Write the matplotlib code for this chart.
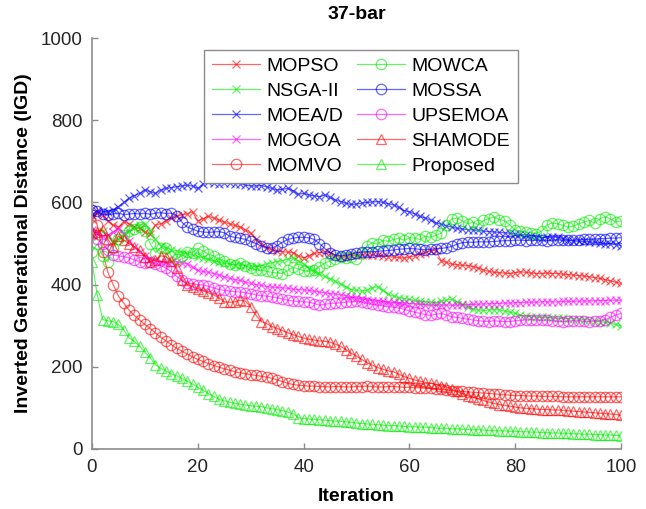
import numpy as np
import matplotlib.pyplot as plt

plt.rcParams['font.family'] = ['Liberation Sans', 'DejaVu Sans']

iteration = np.arange(0, 101)

mopso = [560, 575, 570, 555, 545, 540, 553, 548, 540, 537, 528, 522, 545, 548, 555, 563, 566, 570, 572, 577,
         555, 560, 566, 562, 557, 552, 548, 544, 540, 533, 525, 510, 498, 490, 484, 482, 480, 479, 478, 470,
         465, 470, 476, 478, 480, 478, 470, 466, 468, 471, 472, 473, 471, 472, 471, 470, 468, 467, 466, 465,
         467, 470, 474, 478, 482, 484, 458, 454, 450, 448, 447, 446, 444, 440, 436, 432, 430, 429, 428, 427,
         429, 431, 430, 428, 427, 427, 428, 427, 427, 425, 424, 423, 422, 421, 419, 417, 415, 412, 409, 406, 403]
nsga2 = [520, 525, 530, 515, 505, 510, 520, 530, 540, 545, 548, 530, 510, 495, 490, 485, 482, 478, 475, 472,
         468, 465, 462, 458, 455, 452, 450, 448, 447, 446, 445, 444, 446, 450, 453, 456, 458, 462, 465, 458,
         450, 440, 432, 425, 420, 414, 408, 401, 395, 388, 386, 384, 386, 392, 395, 386, 376, 372, 368, 366,
         364, 362, 360, 358, 357, 356, 360, 362, 364, 358, 352, 345, 340, 338, 337, 338, 339, 338, 336, 333,
         330, 326, 323, 322, 321, 320, 320, 319, 318, 318, 317, 317, 316, 315, 314, 312, 310, 308, 306, 303, 300]
moead = [570, 580, 578, 577, 582, 590, 600, 610, 616, 622, 630, 626, 622, 630, 634, 636, 638, 640, 642, 640,
         634, 645, 650, 648, 646, 647, 648, 646, 646, 642, 640, 640, 641, 638, 634, 630, 632, 634, 628, 620,
         622, 618, 616, 614, 618, 612, 606, 602, 598, 595, 596, 598, 600, 601, 602, 600, 597, 594, 588, 580,
         577, 572, 566, 562, 557, 550, 547, 543, 540, 537, 535, 534, 533, 532, 530, 529, 528, 527, 526, 525,
         523, 522, 521, 519, 517, 514, 515, 516, 516, 512, 508, 506, 505, 505, 504, 503, 502, 500, 499, 497, 495]
mogoa = [532, 525, 518, 520, 528, 536, 525, 505, 492, 480, 470, 462, 458, 456, 455, 456, 455, 453, 451, 442,
         435, 432, 430, 427, 423, 419, 415, 412, 410, 406, 403, 400, 398, 395, 394, 393, 392, 391, 389, 388,
         387, 386, 384, 382, 380, 378, 377, 375, 373, 370, 367, 365, 363, 361, 360, 359, 358, 357, 356, 355,
         354, 353, 352, 351, 350, 350, 350, 350, 350, 350, 351, 351, 352, 352, 353, 353, 354, 354, 355, 355,
         356, 356, 357, 357, 357, 358, 358, 358, 358, 359, 359, 359, 360, 360, 360, 361, 361, 361, 362, 362, 362]
momvo = [582, 545, 480, 430, 400, 372, 355, 338, 325, 314, 303, 293, 282, 272, 263, 254, 245, 238, 231, 224,
         218, 213, 208, 203, 199, 195, 192, 188, 185, 183, 181, 179, 177, 175, 172, 168, 164, 160, 157, 155,
         154, 153, 153, 152, 152, 151, 152, 152, 151, 151, 152, 152, 153, 152, 151, 151, 152, 152, 151, 150,
         150, 149, 149, 148, 148, 147, 146, 144, 142, 141, 140, 139, 138, 137, 136, 135, 134, 133, 132, 131,
         130, 130, 129, 129, 129, 128, 128, 128, 128, 127, 127, 127, 127, 127, 127, 127, 127, 127, 127, 127, 127]
mowca = [480, 500, 470, 455, 490, 510, 520, 530, 535, 540, 530, 500, 478, 490, 488, 470, 462, 470, 480, 478,
         488, 482, 474, 470, 462, 458, 450, 448, 452, 445, 440, 436, 435, 432, 430, 428, 427, 435, 442, 438,
         434, 432, 436, 444, 452, 458, 462, 466, 464, 468, 462, 478, 495, 502, 498, 508, 505, 510, 513, 508,
         514, 513, 510, 518, 515, 520, 525, 545, 560, 562, 555, 548, 552, 545, 556, 560, 565, 558, 555, 545,
         533, 530, 528, 526, 524, 530, 545, 550, 548, 544, 540, 542, 548, 552, 556, 550, 560, 565, 560, 552, 555]
mossa = [582, 578, 572, 570, 572, 574, 570, 572, 573, 572, 574, 571, 574, 575, 573, 574, 568, 552, 540, 535,
         530, 528, 527, 528, 529, 526, 518, 515, 513, 510, 505, 500, 494, 490, 489, 495, 503, 510, 513, 515,
         515, 514, 510, 500, 488, 478, 472, 470, 471, 474, 478, 479, 480, 480, 481, 482, 483, 484, 486, 487,
         488, 487, 486, 485, 486, 487, 488, 490, 493, 498, 502, 503, 503, 504, 504, 504, 505, 506, 507, 507,
         508, 508, 507, 508, 508, 508, 507, 508, 509, 508, 508, 508, 509, 510, 510, 511, 512, 512, 513, 513, 514]
upsemoa = [522, 510, 500, 485, 472, 470, 468, 465, 460, 456, 452, 455, 450, 446, 440, 432, 420, 410, 404, 402,
           400, 399, 396, 392, 388, 386, 384, 383, 382, 380, 378, 375, 373, 372, 370, 368, 365, 362, 360, 359,
           358, 357, 354, 350, 352, 354, 355, 356, 357, 358, 360, 358, 355, 352, 350, 348, 346, 345, 343, 340,
           336, 333, 330, 327, 325, 328, 330, 326, 322, 320, 318, 316, 314, 312, 311, 310, 312, 311, 310, 310,
           312, 313, 314, 315, 314, 313, 314, 312, 311, 310, 311, 312, 312, 311, 310, 311, 312, 315, 320, 326, 330]
shamode = [525, 528, 533, 510, 492, 518, 508, 500, 492, 484, 468, 455, 460, 470, 468, 458, 440, 410, 400, 395,
           390, 385, 380, 375, 368, 358, 357, 358, 362, 360, 345, 325, 310, 305, 298, 293, 288, 283, 278, 274,
           270, 267, 265, 263, 262, 260, 255, 250, 242, 233, 226, 218, 210, 204, 198, 194, 190, 188, 182, 176,
           172, 168, 165, 162, 160, 157, 154, 151, 145, 140, 135, 130, 126, 122, 118, 114, 111, 108, 106, 104,
           102, 100, 99, 98, 97, 96, 96, 95, 95, 94, 93, 92, 91, 90, 89, 88, 87, 86, 85, 84, 82]
proposed = [455, 375, 315, 312, 310, 303, 290, 270, 262, 250, 235, 222, 205, 196, 190, 183, 178, 172, 165, 158,
            150, 143, 135, 128, 121, 117, 114, 111, 109, 107, 105, 104, 103, 100, 98, 96, 93, 90, 86, 76,
            74, 73, 72, 71, 70, 69, 68, 67, 66, 65, 63, 62, 61, 60, 59, 58, 57, 57, 56, 55,
            54, 54, 53, 53, 52, 51, 50, 50, 49, 49, 48, 48, 47, 47, 46, 45, 45, 44, 44, 43,
            43, 42, 42, 41, 41, 40, 40, 39, 39, 38, 38, 37, 37, 36, 36, 35, 35, 34, 34, 33, 32]

names = ['MOPSO', 'NSGA-II', 'MOEA/D', 'MOGOA', 'MOMVO',
         'MOWCA', 'MOSSA', 'UPSEMOA', 'SHAMODE', 'Proposed']
series = [mopso, nsga2, moead, mogoa, momvo, mowca, mossa, upsemoa, shamode, proposed]
colors = ['#ff0000', '#00ee00', '#0000ff', '#ff00ff', '#ff0000',
          '#00ee00', '#0000ff', '#ff00ff', '#ff0000', '#00ee00']
markers = ['x', 'x', 'x', 'x', 'o', 'o', 'o', 'o', '^', '^']

fig = plt.figure(figsize=(6.46, 5.09), dpi=100)
ax = fig.add_axes([0.1424, 0.1179, 0.8189, 0.8074])

for name, vals, c, m in zip(names, series, colors, markers):
    ax.plot(iteration, vals, color=c, marker=m, markersize=7.5 if m != 'x' else 6,
            markerfacecolor='none', markeredgewidth=0.9, linewidth=0.9, alpha=0.6, label=name)

ax.set_xlim(0, 100)
ax.set_ylim(0, 1000)
ax.set_xticks([0, 20, 40, 60, 80, 100])
ax.set_yticks([0, 200, 400, 600, 800, 1000])
for s in ['top', 'right']:
    ax.spines[s].set_visible(False)
for s in ['left', 'bottom']:
    ax.spines[s].set_color('#8c8c8c')
    ax.spines[s].set_linewidth(1.2)
ax.tick_params(direction='in', length=4, width=1, color='#8c8c8c',
               labelsize=13.5, labelcolor='#262626', pad=7)

ax.set_title('37-bar', fontsize=14, fontweight='bold', pad=14)
ax.set_xlabel('Iteration', fontsize=14, fontweight='bold', labelpad=9)
ax.set_ylabel('Inverted Generational Distance (IGD)', fontsize=14, fontweight='bold', labelpad=6)

leg = ax.legend(ncol=2, loc='upper center', bbox_to_anchor=(0.508, 0.972), fontsize=14,
                handlelength=2.5, columnspacing=0.7, labelspacing=0.38, handletextpad=0.3,
                borderpad=0.4, borderaxespad=0, fancybox=False, framealpha=1)
leg.get_frame().set_edgecolor('#8c8c8c')
leg.get_frame().set_linewidth(1.0)

fig.savefig('out.png', dpi=100)
